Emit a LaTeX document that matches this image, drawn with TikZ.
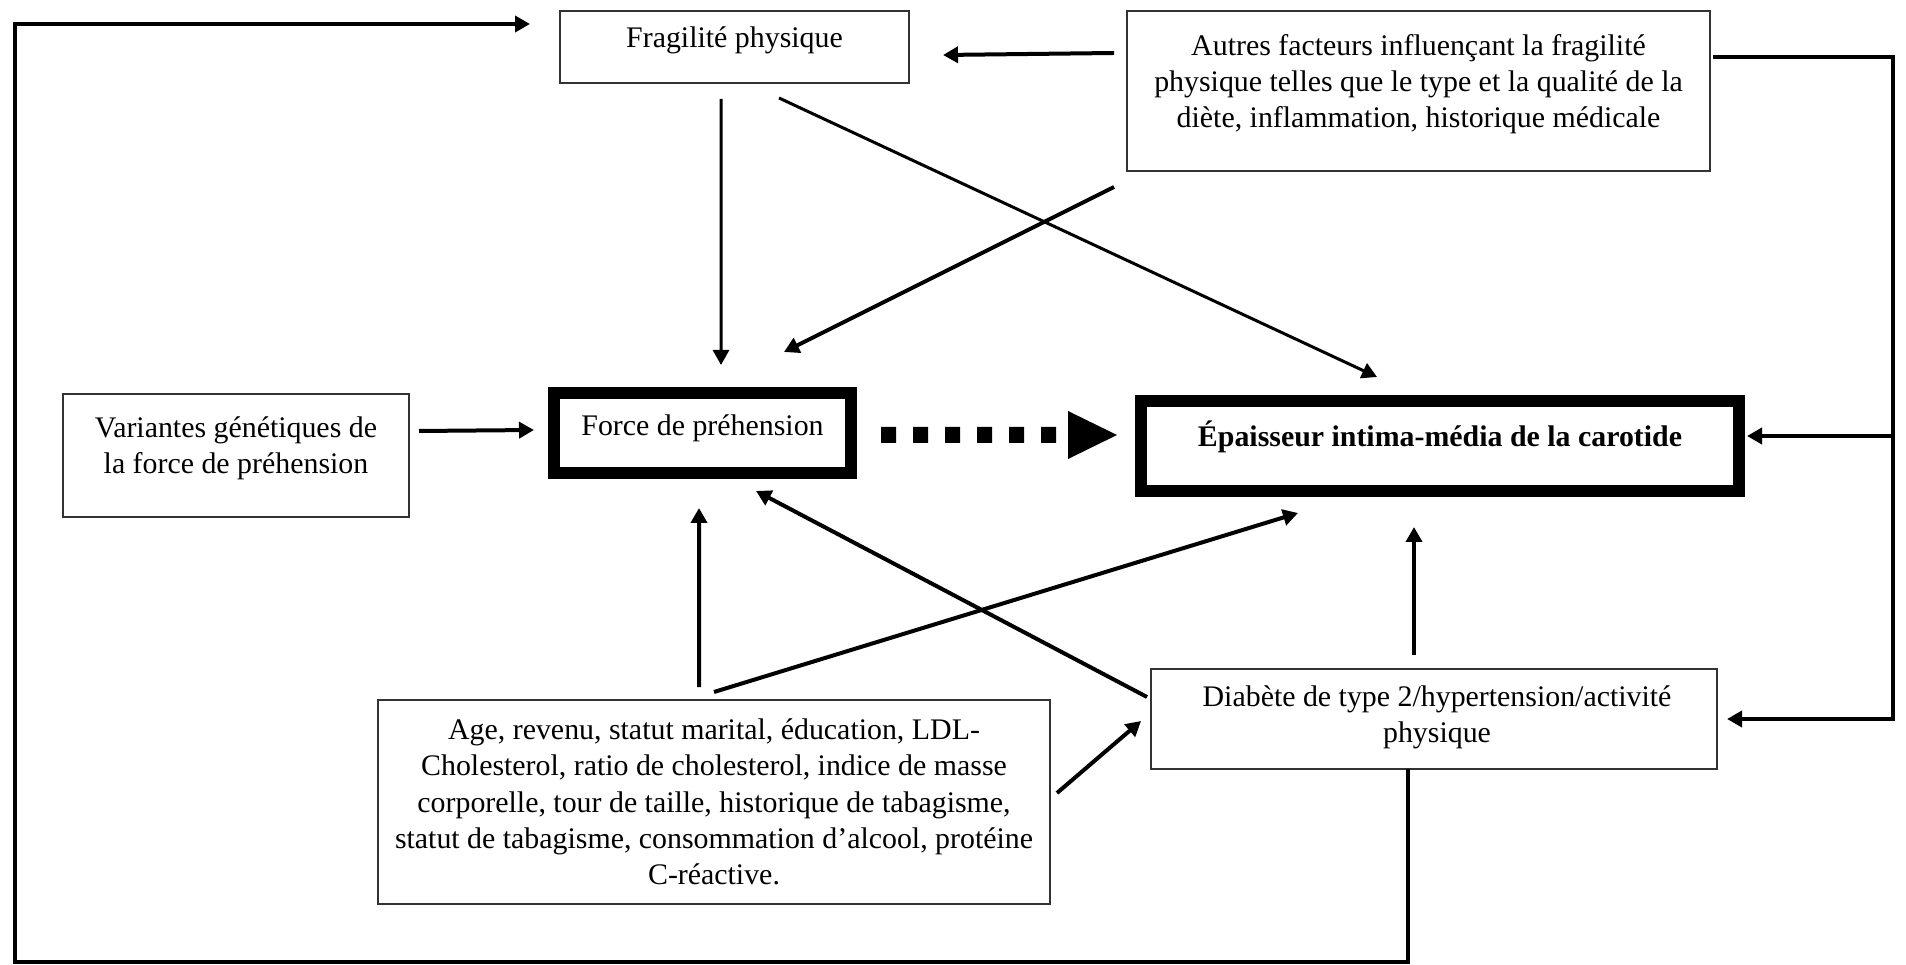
\documentclass[tikz,border=0pt]{standalone}
\usepackage{fontspec}
\setmainfont{Liberation Serif}
\usetikzlibrary{arrows.meta}
\begin{document}
\begin{tikzpicture}[y=-1cm,
    box/.style={draw=black!80, line width=0.02cm, inner sep=0pt, outer sep=0pt},
    thickbox/.style={draw, line width=0.12cm, inner sep=0pt, outer sep=0pt},
    lbl/.style={align=center, inner sep=0pt, font=\fontsize{8.5}{10.3}\selectfont},
    arr/.style={line width=0.04cm, -{Triangle[length=0.15cm, width=0.16cm]}},
    thinarr/.style={arr, line width=0.03cm},
    looparr/.style={arr, line width=0.045cm},
    dashline/.style={line width=0.16cm, dash pattern=on 0.15cm off 0.17cm}]
  \useasboundingbox (0,0) rectangle (19.06,9.65);
  \node[box, minimum width=3.49cm, minimum height=0.72cm] (frag) at (7.345,0.47) {};
  \node[box, minimum width=5.83cm, minimum height=1.60cm] (autres) at (14.185,0.91) {};
  \node[box, minimum width=3.46cm, minimum height=1.23cm] (var) at (2.36,4.555) {};
  \node[thickbox, minimum width=2.97cm, minimum height=0.80cm] (force) at (7.025,4.33) {};
  \node[thickbox, minimum width=5.98cm, minimum height=0.90cm] (epais) at (14.40,4.46) {};
  \node[box, minimum width=6.72cm, minimum height=2.04cm] (age) at (7.14,8.02) {};
  \node[box, minimum width=5.66cm, minimum height=1.00cm] (diab) at (14.34,7.19) {};
  \node[lbl] (fragtext) at ([shift={(0,-0.07)}]frag.center) {Fragilité physique};
  \node[lbl] (autrestext) at ([shift={(0,-0.07)}]autres.center)
    {Autres facteurs influençant la fragilité\\physique telles que le type et la qualité de la\\diète, inflammation, historique médicale};
  \node[lbl] (vartext) at ([shift={(0,-0.07)}]var.center)
    {Variantes génétiques de\\la force de préhension};
  \node[lbl] (forcetext) at ([shift={(0,-0.05)}]force.center) {Force de préhension};
  \node[lbl, font=\fontsize{8.5}{10.3}\selectfont\bfseries] (epaistext)
    at ([shift={(0,-0.09)}]epais.center) {Épaisseur intima-média de la carotide};
  \node[lbl] (agetext) at (age.center)
    {Age, revenu, statut marital, éducation, LDL-\\Cholesterol, ratio de cholesterol, indice de masse\\corporelle, tour de taille, historique de tabagisme,\\statut de tabagisme, consommation d’alcool, protéine\\C-réactive.};
  \node[lbl] (diabtext) at ([shift={(0.03,-0.02)}]diab.center)
    {Diabète de type 2/hypertension/activité\\physique};
  % outer loops
  \coordinate (loopsw) at (0.15,9.62);
  \coordinate (loopnw) at (0.15,0.24);
  \coordinate (loopne) at (18.93,0.57);
  \coordinate (loopse) at (18.93,7.19);
  \coordinate (loope) at (18.93,4.36);
  \draw[looparr] ([xshift=-0.26cm]diab.south) |- (loopsw) -- (loopnw)
    -- ([shift={(-0.30,-0.23)}]frag.west);
  \draw[looparr] ([shift={(0.03,-0.34)}]autres.east) -- (loopne) -- (loopse)
    -- ([xshift=0.10cm]diab.east);
  \draw[looparr] (loope) -- ([shift={(0.08,-0.10)}]epais.east);
  % arrows
  \draw[arr] ([shift={(-0.13,-0.38)}]autres.west) -- ([shift={(0.34,0.08)}]frag.east);
  \draw[thinarr] ([shift={(-0.135,0.16)}]frag.south) -- ([shift={(0.185,-0.28)}]force.north);
  \draw[thinarr] ([shift={(0.445,0.15)}]frag.south) -- ([shift={(-0.63,-0.24)}]epais.north);
  \draw[arr] ([shift={(-0.13,0.16)}]autres.south west) -- ([shift={(0.815,-0.41)}]force.north);
  \draw[arr] ([shift={(0.10,-0.245)}]var.east) -- ([shift={(-0.20,-0.03)}]force.west);
  \draw[dashline] ([shift={(0.30,0.02)}]force.east) -- ([shift={(-0.85,-0.11)}]epais.west);
  \fill ([shift={(-0.73,-0.35)}]epais.west) -- ([shift={(-0.24,-0.11)}]epais.west)
    -- ([shift={(-0.73,0.13)}]epais.west) -- cycle;
  \draw[arr] ([shift={(-0.15,-0.13)}]age.north) -- ([shift={(-0.035,0.35)}]force.south);
  \draw[arr] ([shift={(0,-0.08)}]age.north) -- ([shift={(-1.42,0.22)}]epais.south);
  \draw[arr] ([shift={(-0.04,-0.22)}]diab.west) -- ([shift={(0.535,0.18)}]force.south);
  \draw[arr] ([shift={(-0.20,-0.14)}]diab.north) -- ([shift={(-0.26,0.36)}]epais.south);
  \draw[arr] ([shift={(0.07,-0.09)}]age.east) -- ([shift={(-0.10,0.02)}]diab.west);
\end{tikzpicture}
\end{document}
